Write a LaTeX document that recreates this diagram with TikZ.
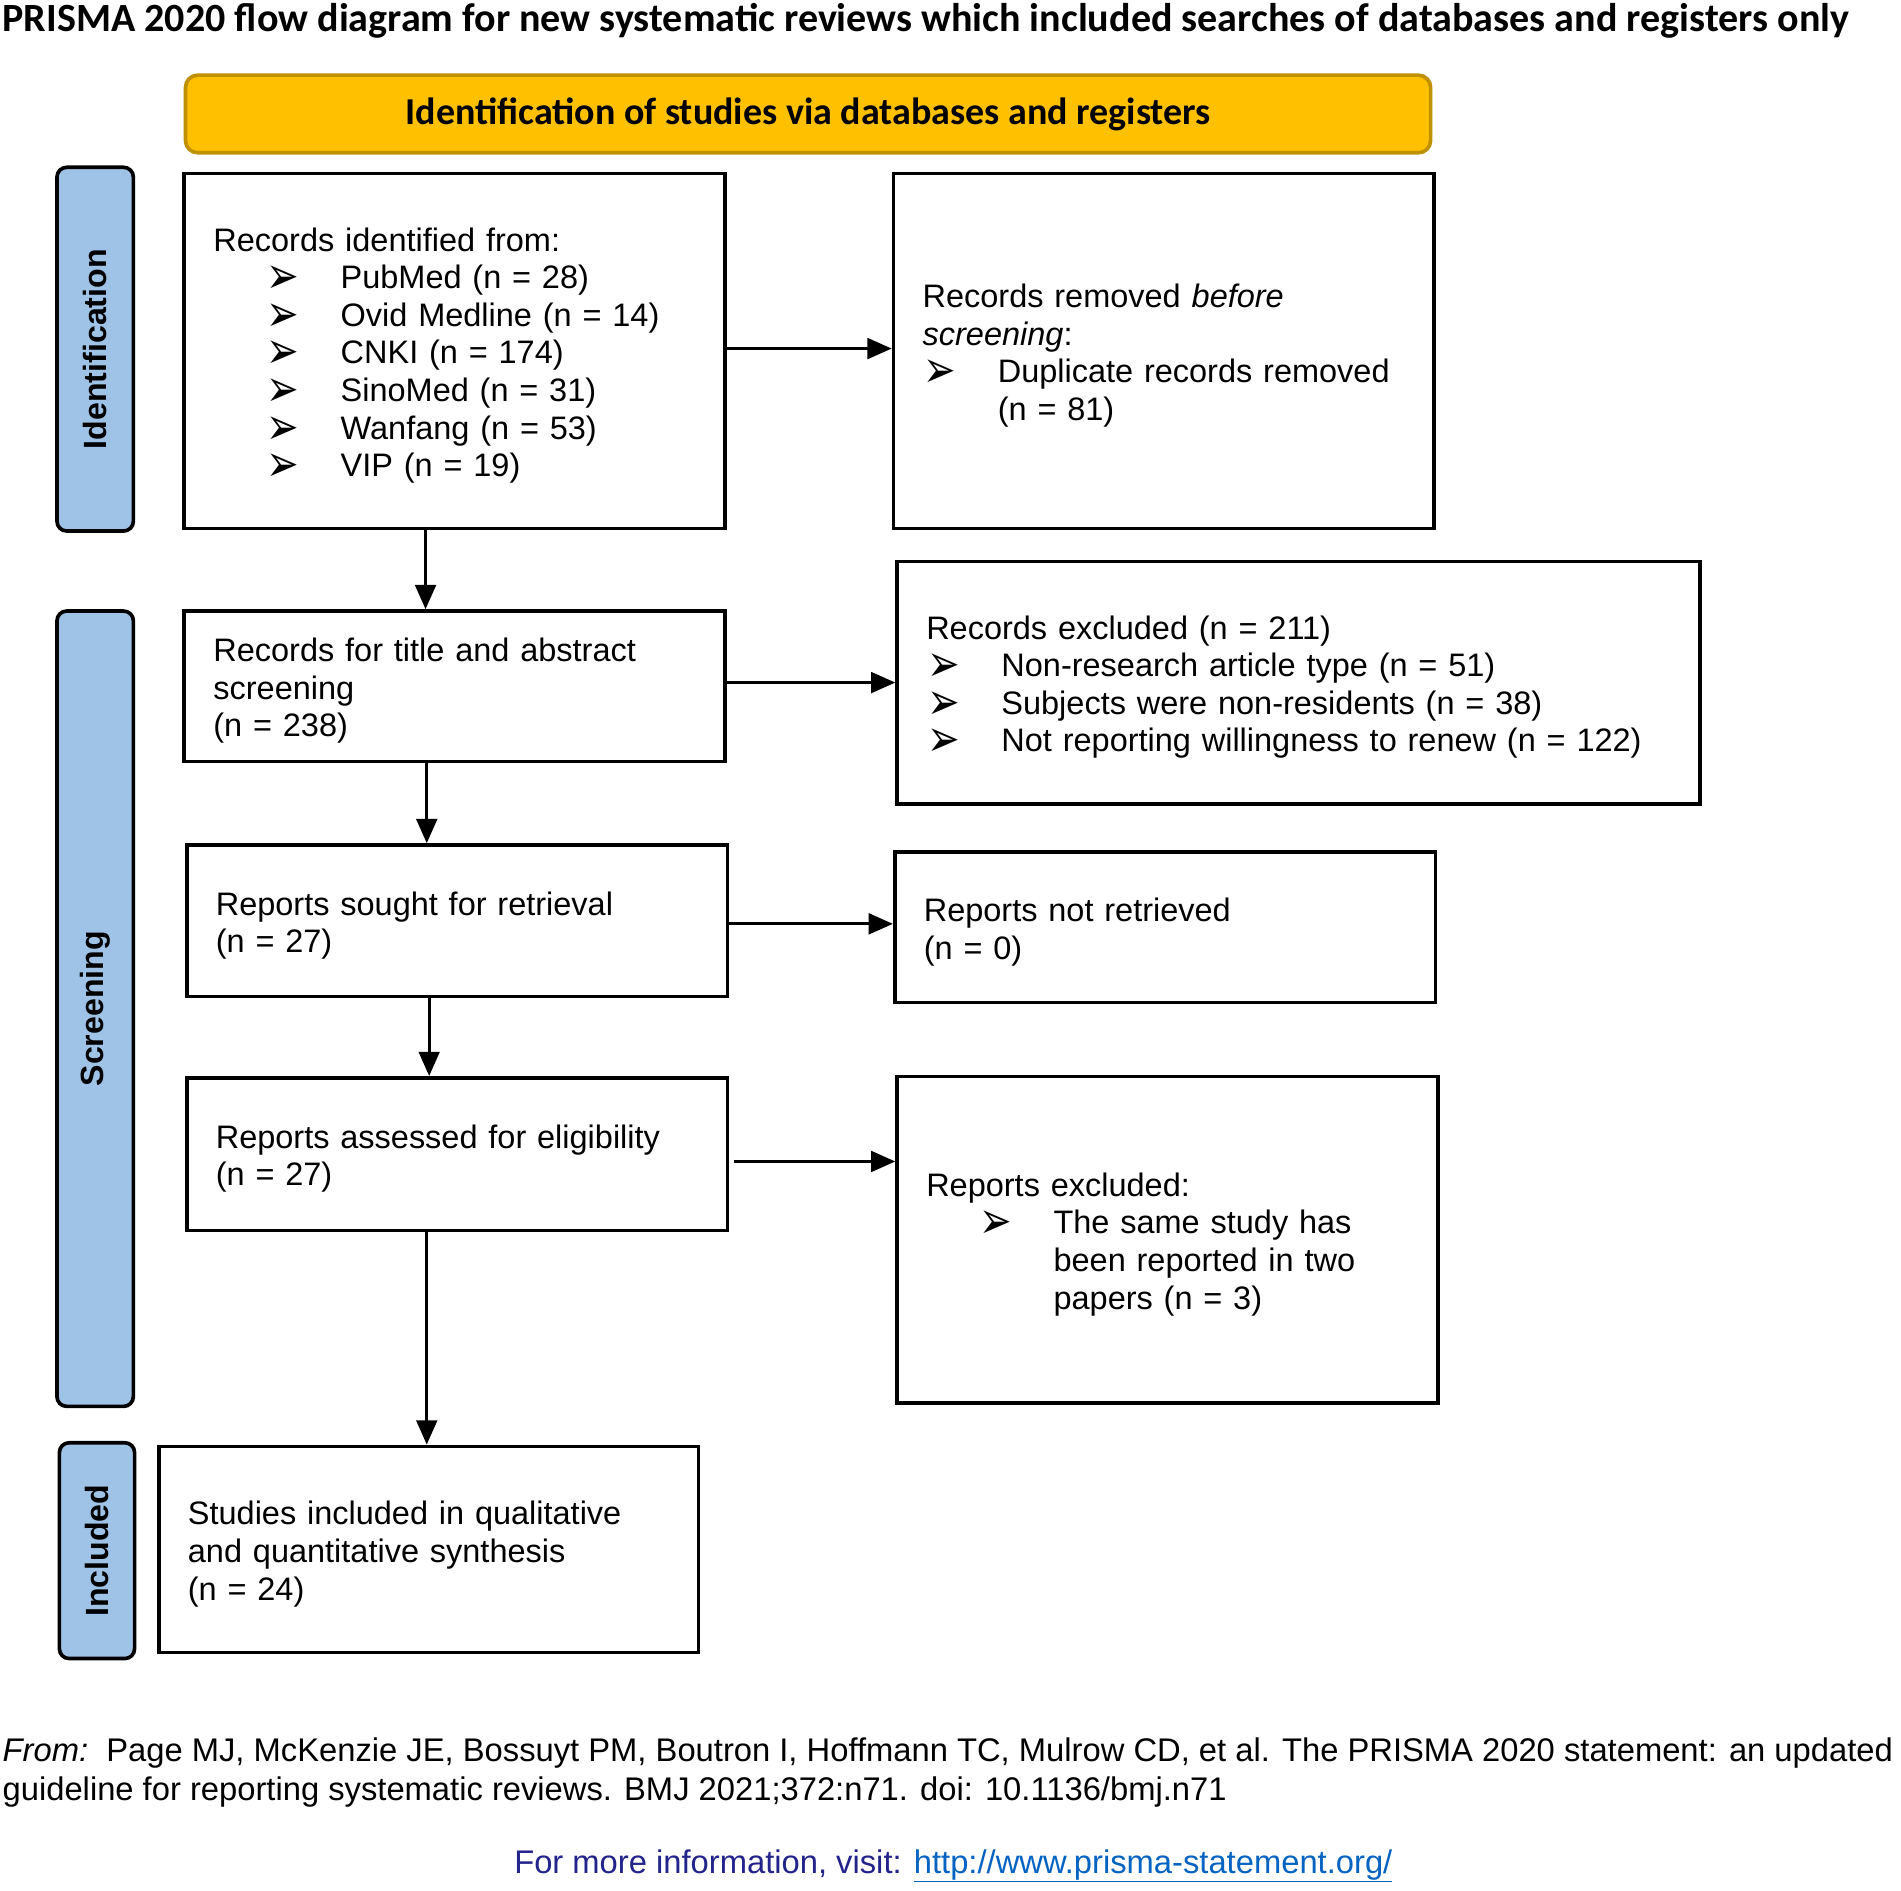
\documentclass[tikz,border=0pt]{standalone}
\usepackage{fontspec}
\setmainfont{Liberation Sans}
\newfontfamily\calib{Carlito}
\newfontfamily\dejavu{DejaVu Sans}
\usetikzlibrary{arrows.meta}
\definecolor{gold}{HTML}{FFC000}
\definecolor{golddark}{HTML}{BF9000}
\definecolor{sideblue}{HTML}{9FC3E7}
\definecolor{navy}{HTML}{23238C}
\definecolor{linkblue}{HTML}{0563C1}
\newcommand{\bul}{{\dejavu\smash{\raisebox{-4pt}{\scalebox{1.2}[1.6]{➢}}}}}
\newcommand{\bit}[2]{\hspace*{#1}\makebox[61pt][l]{\bul}#2}
\newcommand{\topstrut}{\rule{0pt}{27pt}}
\begin{document}
\begin{tikzpicture}[x=1pt,y=-1pt,
  box/.style={draw=black, line width=3pt, fill=white, align=left, inner xsep=24pt, inner ysep=0pt, font=\fontsize{26.8}{31}\selectfont},
  side/.style={draw=black, line width=3pt, fill=sideblue, rounded corners=8pt, rotate=90, font=\fontsize{26.5}{30}\selectfont\bfseries},
  arr/.style={line width=2.6pt, -{Triangle[length=20pt,width=17pt]}},
  foot/.style={anchor=west, inner sep=0pt, align=left, font=\fontsize{27}{32}\selectfont}
]
\useasboundingbox (0,0) rectangle (1568,1559);

\node[anchor=west, inner sep=0pt] (title) at (2,17) {\resizebox{1523pt}{!}{\calib\bfseries PRISMA 2020 flow diagram for new systematic reviews which included searches of databases and registers only}};

\node[draw=golddark, line width=3pt, fill=gold, rounded corners=10pt, minimum width=1027pt, minimum height=64pt] (hdr) at (666.5,94) {\resizebox{664pt}{!}{\calib\bfseries Identification of studies via databases and registers}};

\node[side, minimum width=300pt, minimum height=63pt] (sid) at (78.5,288) {Identification};
\node[side, minimum width=656pt, minimum height=63pt] (sscr) at (78.5,832) {Screening};
\node[side, minimum width=178pt, minimum height=62pt] (sinc) at (80,1279) {Included};

\node[box, minimum width=446pt, minimum height=293pt, text width=398pt] (b1) at (375,289.5) {\topstrut Records identified from:\\
\bit{44pt}{PubMed (n = 28)}\\
\bit{44pt}{Ovid Medline (n = 14)}\\
\bit{44pt}{CNKI (n = 174)}\\
\bit{44pt}{SinoMed (n = 31)}\\
\bit{44pt}{Wanfang (n = 53)}\\
\bit{44pt}{VIP (n = 19)}};

\node[box, minimum width=446pt, minimum height=293pt, text width=398pt] (b2) at (960,289.5) {\topstrut Records removed \textit{before}\\
\textit{screening}:\\
\bit{1pt}{Duplicate records removed}\\
\hspace*{62pt}(n = 81)};

\node[box, minimum width=446pt, minimum height=124pt, text width=398pt] (b3) at (375,566) {\topstrut Records for title and abstract\\ screening\\ (n = 238)};

\node[box, minimum width=662pt, minimum height=200pt, text width=614pt] (b4) at (1071,563) {\topstrut Records excluded (n = 211)\\
\bit{1pt}{Non-research article type (n = 51)}\\
\bit{1pt}{Subjects were non-residents (n = 38)}\\
\bit{1pt}{Not reporting willingness to renew (n = 122)}};

\node[box, minimum width=446pt, minimum height=125pt, text width=398pt] (b5) at (377,759.5) {\topstrut Reports sought for retrieval\\ (n = 27)};

\node[box, minimum width=446pt, minimum height=124pt, text width=398pt] (b6) at (961,765) {\topstrut Reports not retrieved\\ (n = 0)};

\node[box, minimum width=446pt, minimum height=126pt, text width=398pt] (b7) at (377,952) {\topstrut Reports assessed for eligibility\\ (n = 27)};

\node[box, minimum width=446pt, minimum height=269pt, text width=398pt] (b8) at (963,1022.5) {\topstrut Reports excluded:\\
\bit{44pt}{The same study has}\\
\hspace*{105pt}been reported in two\\
\hspace*{105pt}papers (n = 3)};

\node[box, minimum width=445pt, minimum height=170pt, text width=397pt] (b9) at (353.5,1278) {\topstrut Studies included in qualitative\\ and quantitative synthesis\\ (n = 24)};

\draw[arr] ([yshift=2pt]b1.east) -- ([yshift=2pt]b2.west);
\draw[arr] ([xshift=-24pt]b1.south) -- ([xshift=-24pt]b1.south |- b3.north);
\draw[arr] (b4.west -| b3.east) -- (b4.west);
\draw[arr] ([xshift=-23pt]b3.south) -- ([xshift=-23pt]b3.south |- b5.north);
\draw[arr] ([yshift=-2.5pt]b5.east) -- ([yshift=-2.5pt]b5.east -| b6.west);
\draw[arr] ([xshift=-23pt]b5.south) -- ([xshift=-23pt]b5.south |- b7.north);
\draw[arr] ([xshift=4pt,yshift=-6pt]b7.east) -- ([yshift=-6pt]b7.east -| b8.west);
\draw[arr] ([xshift=-25pt]b7.south) -- ([xshift=-25pt]b7.south |- b9.north);

\node[foot] (ref) at (2,1462) {\textit{From:}\ \ Page MJ, McKenzie JE, Bossuyt PM, Boutron I, Hoffmann TC, Mulrow CD, et al. The PRISMA 2020 statement: an updated\\
guideline for reporting systematic reviews. BMJ 2021;372:n71. doi: 10.1136/bmj.n71};

\node[foot] (more) at (424,1539) {\textcolor{navy}{For more information, visit: }\textcolor{linkblue}{\underline{http://www.prisma-statement.org/}}};
\end{tikzpicture}
\end{document}
